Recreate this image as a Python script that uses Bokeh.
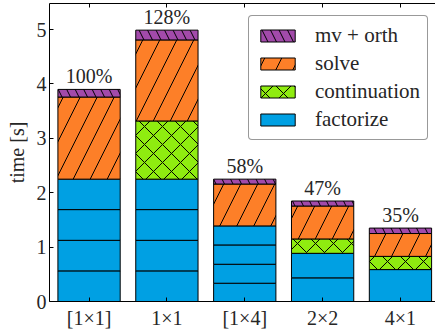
from bokeh.plotting import figure
from bokeh.models import Range1d, FixedTicker, LinearAxis, Legend, LegendItem
from bokeh.core.properties import value
from bokeh.embed import file_html
from bokeh.resources import INLINE

# configurations (grid of processes) and their time breakdown in seconds
categories = ["[1×1]", "1×1", "[1×4]", "2×2", "4×1"]
# factorize time is split into per-block pieces (stacked, same colour)
factorize_blocks = [
    [0.563, 0.562, 0.565, 0.56],
    [0.563, 0.562, 0.565, 0.56],
    [0.336, 0.349, 0.355, 0.35],
    [0.435, 0.451],
    [0.587],
]
continuation = [0.0, 1.07, 0.0, 0.264, 0.243]
solve = [1.51, 1.49, 0.77, 0.606, 0.42]
mv_orth = [0.14, 0.18, 0.09, 0.092, 0.10]

FONT = "Liberation Serif"
TEXT = "#262626"
BLUE = "#00a0e3"
GREEN = "#8fec10"
ORANGE = "#fd7f28"
PURPLE = "#a24aaa"

xs = list(range(len(categories)))
factorize = [sum(b) for b in factorize_blocks]

# flatten the factorize pieces into stacked rectangles
fx, fb, ft = [], [], []
for i, blocks in enumerate(factorize_blocks):
    base = 0.0
    for b in blocks:
        fx.append(i)
        fb.append(base)
        ft.append(base + b)
        base += b

cont_bottom = factorize
cont_top = [a + b for a, b in zip(cont_bottom, continuation)]
solve_top = [a + b for a, b in zip(cont_top, solve)]
total = [a + b for a, b in zip(solve_top, mv_orth)]
pct = [f"{round(100 * t / total[0])}%" for t in total]

p = figure(width=435, height=334, output_backend="svg", toolbar_location=None,
           x_range=Range1d(-0.508, 4.45), y_range=Range1d(0, 5.48),
           min_border_left=49, min_border_right=0, min_border_top=3,
           min_border_bottom=33, x_axis_location=None, y_axis_location=None)
p.outline_line_color = None
p.grid.visible = False
p.background_fill_color = "white"
p.border_fill_color = "white"

W = 0.8
r_fac = p.vbar(x=fx, bottom=fb, top=ft, width=W, fill_color=BLUE,
               line_color="black", line_width=1)
cont_idx = [i for i in xs if continuation[i] > 0]
r_cont = p.vbar(x=[xs[i] for i in cont_idx], bottom=[cont_bottom[i] for i in cont_idx],
                top=[cont_top[i] for i in cont_idx], width=W, fill_color=GREEN,
                line_color="black", line_width=1, hatch_pattern="diagonal_cross",
                hatch_color="black", hatch_weight=1, hatch_scale=18)
r_solve = p.vbar(x=xs, bottom=cont_top, top=solve_top, width=W, fill_color=ORANGE,
                 line_color="black", line_width=1, hatch_pattern="right_diagonal_line",
                 hatch_color="black", hatch_weight=1, hatch_scale=34)
r_mv = p.vbar(x=xs, bottom=solve_top, top=total, width=W, fill_color=PURPLE,
              line_color="black", line_width=1, hatch_pattern="left_diagonal_line",
              hatch_color="black", hatch_weight=1, hatch_scale=17)

# relative runtime above each bar
p.text(x=xs, y=total, text=pct, text_align="center", text_baseline="bottom",
       y_offset=-2, text_font=value(FONT), text_font_style="normal",
       text_font_size="20px", text_color=TEXT)

def style_axis(ax):
    ax.axis_line_color = "black"
    ax.axis_line_width = 1
    ax.major_tick_line_color = "black"
    ax.major_tick_in = 4
    ax.major_tick_out = 0
    ax.minor_tick_line_color = None
    ax.major_label_text_font = FONT
    ax.major_label_text_font_size = "20px"
    ax.major_label_text_color = TEXT

xaxis = LinearAxis(ticker=FixedTicker(ticks=xs),
                   major_label_overrides={i: c for i, c in zip(xs, categories)})
style_axis(xaxis)
xaxis.major_label_standoff = 5
p.add_layout(xaxis, "below")

top_axis = LinearAxis(ticker=FixedTicker(ticks=xs))
style_axis(top_axis)
top_axis.major_label_text_font_size = "0px"
top_axis.major_label_text_color = None
top_axis.major_label_standoff = 0
p.add_layout(top_axis, "above")

yaxis = LinearAxis(ticker=FixedTicker(ticks=[0, 1, 2, 3, 4, 5]),
                   axis_label="time [s]")
style_axis(yaxis)
yaxis.major_label_standoff = 3
yaxis.axis_label_text_font = FONT
yaxis.axis_label_text_font_size = "20px"
yaxis.axis_label_text_font_style = "normal"
yaxis.axis_label_text_color = TEXT
yaxis.axis_label_standoff = 6
p.add_layout(yaxis, "left")

legend = Legend(items=[
    LegendItem(label="mv + orth", renderers=[r_mv]),
    LegendItem(label="solve", renderers=[r_solve]),
    LegendItem(label="continuation", renderers=[r_cont]),
    LegendItem(label="factorize", renderers=[r_fac]),
], location=(199, 161))
legend.label_text_font = FONT
legend.label_text_font_style = "normal"
legend.label_text_font_size = "21px"
legend.label_text_color = TEXT
legend.glyph_width = 43
legend.glyph_height = 15
legend.label_height = 20
legend.label_standoff = 16
legend.spacing = 3
legend.padding = 7
legend.margin = 0
legend.border_line_color = "#333333"
legend.border_line_width = 1
legend.border_radius = 4
legend.background_fill_alpha = 1
p.add_layout(legend, "center")

open("out.html", "w").write(file_html(p, INLINE))
